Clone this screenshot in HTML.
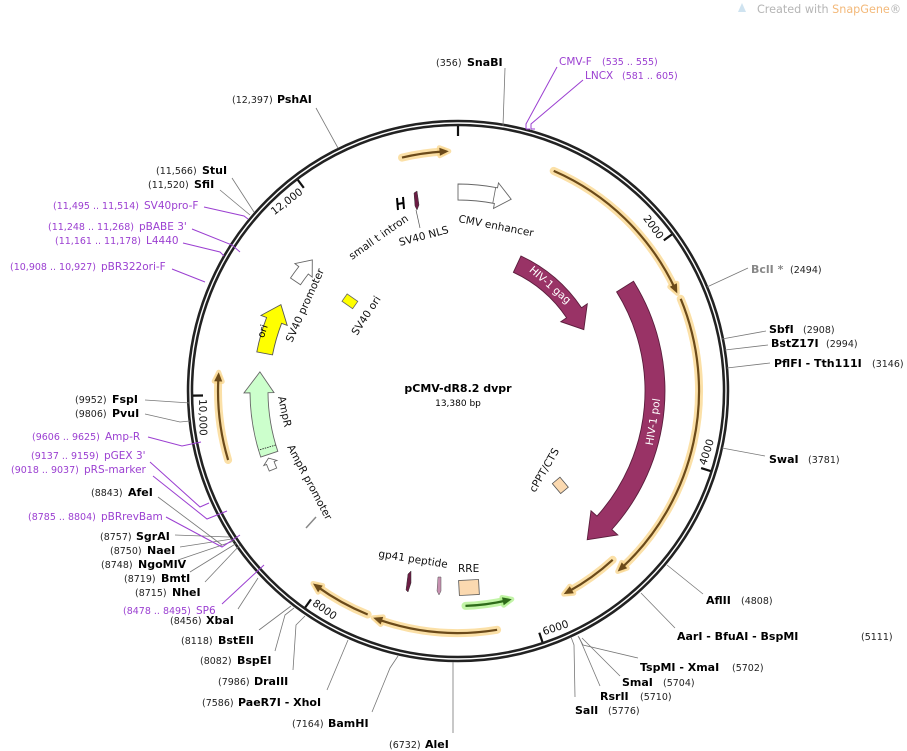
<!DOCTYPE html>
<html><head><meta charset="utf-8">
<style>
html,body{margin:0;padding:0;background:#fff;}
svg{display:block;font-family:"DejaVu Sans","Liberation Sans",sans-serif;}
.n{font-size:9.5px;fill:#222;}
.b{font-size:11px;font-weight:bold;fill:#000;}
.p{font-size:10.5px;fill:#9b3fd1;}
.pn{font-size:9.5px;fill:#9b3fd1;}
.f{font-size:11px;fill:#111;}
.t{font-size:10.5px;fill:#111;}
</style></head><body>
<svg id="s" width="907" height="751" viewBox="0 0 907 751" xmlns="http://www.w3.org/2000/svg">
<text x="757" y="13" style="font-size:11.2px;fill:#b5b5b5">Created with <tspan fill="#f3b97a">SnapGene</tspan>®</text>
<path d="M738 12 l4 -9 l4 9 z" fill="#cfe3f0"/>
<g id="feat"></g>
<circle cx="458" cy="391" r="268" fill="none" stroke="#222" stroke-width="6.5"/>
<circle cx="458" cy="391" r="268" fill="none" stroke="#fff" stroke-width="1.4"/>
<g id="ticks"></g>
<g stroke="#777" stroke-width="0.8" fill="none">
<path d="M505 68 L503 126"/>
<path d="M316 108 L338 148"/>
<path d="M232 178 L254 212"/>
<path d="M220 190 L250 215"/>
<path d="M748 268 L707 287"/>
<path d="M766 331 L722 339"/>
<path d="M768 345 L725 350"/>
<path d="M770 363 L727 368"/>
<path d="M765 456 L722 448"/>
<path d="M703 594 L667 565"/>
<path d="M675 628 L641 593"/>
<path d="M638 658 L583 645 L578 636"/>
<path d="M620 676 L582 638"/>
<path d="M600 686 L579 637"/>
<path d="M575 697 L574 645 L571 637"/>
<path d="M453 733 L453 662"/>
<path d="M372 712 L390 668 L398 656"/>
<path d="M327 690 L348 640"/>
<path d="M293 670 L296 625 L305 616"/>
<path d="M275 651 L285 615 L294 608"/>
<path d="M259 630 L291 606"/>
<path d="M238 609 L258 578"/>
<path d="M205 582 L240 545"/>
<path d="M190 572 L237 543"/>
<path d="M178 560 L234 541"/>
<path d="M180 547 L232 539"/>
<path d="M175 535 L229 537"/>
<path d="M158 497 L222 545"/>
<path d="M145 400 L190 403"/>
<path d="M145 414 L180 422 L190 421"/>
</g>
<g stroke="#9b3fd1" stroke-width="1" fill="none">
<path d="M557 67 L526 124 L526 129 M526 129 h4"/>
<path d="M583 80 L531 124 L531 129 M531 129 h4"/>
<path d="M204 207 L244 216 L248 219"/>
<path d="M192 229 L232 245 L240 252"/>
<path d="M183 243 L220 252 L224 256"/>
<path d="M172 269 L205 282"/>
<path d="M148 437 L182 446 L201 442"/>
<path d="M150 462 L200 507 L209 503"/>
<path d="M153 476 L207 519 L227 511"/>
<path d="M166 517 L222 547 L240 535"/>
<path d="M222 604 L264 565"/>
</g>
<text x="436" y="66" class="n">(356)</text><text x="467" y="66" class="b">SnaBI</text>
<text x="559" y="65" class="p">CMV-F</text><text x="602" y="65" class="pn">(535 .. 555)</text>
<text x="585" y="79" class="p">LNCX</text><text x="622" y="79" class="pn">(581 .. 605)</text>
<text x="232" y="103" class="n">(12,397)</text><text x="277" y="103" class="b">PshAI</text>
<text x="156" y="174" class="n">(11,566)</text><text x="202" y="174" class="b">StuI</text>
<text x="148" y="188" class="n">(11,520)</text><text x="194" y="188" class="b">SfiI</text>
<text x="53" y="209" class="pn">(11,495 .. 11,514)</text><text x="144" y="209" class="p">SV40pro-F</text>
<text x="48" y="230" class="pn">(11,248 .. 11,268)</text><text x="139" y="230" class="p">pBABE 3'</text>
<text x="55" y="244" class="pn">(11,161 .. 11,178)</text><text x="146" y="244" class="p">L4440</text>
<text x="10" y="270" class="pn">(10,908 .. 10,927)</text><text x="101" y="270" class="p">pBR322ori-F</text>
<text x="751" y="273" class="b" style="fill:#888">BclI *</text><text x="790" y="273" class="n">(2494)</text>
<text x="769" y="333" class="b">SbfI</text><text x="803" y="333" class="n">(2908)</text>
<text x="771" y="347" class="b">BstZ17I</text><text x="826" y="347" class="n">(2994)</text>
<text x="774" y="367" class="b">PflFI  - Tth111I</text><text x="872" y="367" class="n">(3146)</text>
<text x="769" y="463" class="b">SwaI</text><text x="808" y="463" class="n">(3781)</text>
<text x="706" y="604" class="b">AflII</text><text x="741" y="604" class="n">(4808)</text>
<text x="677" y="640" class="b">AarI  - BfuAI  - BspMI</text><text x="861" y="640" class="n">(5111)</text>
<text x="640" y="671" class="b">TspMI  - XmaI</text><text x="732" y="671" class="n">(5702)</text>
<text x="622" y="686" class="b">SmaI</text><text x="663" y="686" class="n">(5704)</text>
<text x="600" y="700" class="b">RsrII</text><text x="640" y="700" class="n">(5710)</text>
<text x="575" y="714" class="b">SalI</text><text x="608" y="714" class="n">(5776)</text>
<text x="389" y="748" class="n">(6732)</text><text x="425" y="748" class="b">AleI</text>
<text x="292" y="727" class="n">(7164)</text><text x="328" y="727" class="b">BamHI</text>
<text x="202" y="706" class="n">(7586)</text><text x="238" y="706" class="b">PaeR7I  - XhoI</text>
<text x="218" y="685" class="n">(7986)</text><text x="254" y="685" class="b">DraIII</text>
<text x="200" y="664" class="n">(8082)</text><text x="237" y="664" class="b">BspEI</text>
<text x="181" y="644" class="n">(8118)</text><text x="218" y="644" class="b">BstEII</text>
<text x="170" y="624" class="n">(8456)</text><text x="206" y="624" class="b">XbaI</text>
<text x="123" y="614" class="pn">(8478 .. 8495)</text><text x="196" y="614" class="p">SP6</text>
<text x="135" y="596" class="n">(8715)</text><text x="172" y="596" class="b">NheI</text>
<text x="124" y="582" class="n">(8719)</text><text x="161" y="582" class="b">BmtI</text>
<text x="101" y="568" class="n">(8748)</text><text x="138" y="568" class="b">NgoMIV</text>
<text x="110" y="554" class="n">(8750)</text><text x="147" y="554" class="b">NaeI</text>
<text x="100" y="540" class="n">(8757)</text><text x="136" y="540" class="b">SgrAI</text>
<text x="28" y="520" class="pn">(8785 .. 8804)</text><text x="101" y="520" class="p">pBRrevBam</text>
<text x="91" y="496" class="n">(8843)</text><text x="128" y="496" class="b">AfeI</text>
<text x="11" y="473" class="pn">(9018 .. 9037)</text><text x="84" y="473" class="p">pRS-marker</text>
<text x="31" y="459" class="pn">(9137 .. 9159)</text><text x="104" y="459" class="p">pGEX 3'</text>
<text x="32" y="440" class="pn">(9606 .. 9625)</text><text x="105" y="440" class="p">Amp-R</text>
<text x="75" y="417" class="n">(9806)</text><text x="112" y="417" class="b">PvuI</text>
<text x="75" y="403" class="n">(9952)</text><text x="112" y="403" class="b">FspI</text>
<text x="458" y="392" text-anchor="middle" style="font-size:11px;font-weight:bold">pCMV-dR8.2 dvpr</text>
<text x="458" y="406" text-anchor="middle" style="font-size:9px">13,380 bp</text>
<text class="t" transform="translate(352,260) rotate(-35)">small t intron</text>
<text class="t" transform="translate(400,246) rotate(-15)">SV40 NLS</text>
<text class="t" transform="translate(458,222) rotate(11)">CMV enhancer</text>
<text class="t" transform="translate(292,343) rotate(-66)">SV40 promoter</text>
<text class="t" transform="translate(357,336) rotate(-57)">SV40 ori</text>
<text class="t" transform="translate(278,397) rotate(78)">AmpR</text>
<text class="t" transform="translate(287,447) rotate(62)">AmpR promoter</text>
<text class="t" transform="translate(535,493) rotate(-60)">cPPT/CTS</text>
<text class="t" transform="translate(378,557) rotate(9)">gp41 peptide</text>
<text class="t" x="458" y="572">RRE</text>
<rect x="459" y="580" width="20" height="15" fill="#fbd9b0" stroke="#555" stroke-width="0.8" transform="rotate(-3 469 588)"/>
<rect x="555" y="479" width="10" height="13" fill="#fbd9b0" stroke="#555" stroke-width="0.8" transform="rotate(-40 560 485)"/>
<rect x="343" y="297" width="13" height="9" fill="#ffff00" stroke="#666" stroke-width="0.8" transform="rotate(35 350 302)"/>
<path d="M408 574 l3 -3 l0 12 l-3 9 l-2 -2 z" fill="#6b1d44" stroke="#333" stroke-width="0.5"/>
<path d="M438 577 l3 0 l0 14 l-2 4 l-2 -4 z" fill="#c690b0" stroke="#555" stroke-width="0.5"/>
<path d="M414 193 l3 -2 l2 14 l-2 5 l-2 -4 z" fill="#6b1d44" stroke="#333" stroke-width="0.5"/>
<path d="M416 210 L420 228" stroke="#555" stroke-width="0.7"/>
<path d="M397 198 l1 12 M403 197 l1 12 M398 204 l5 -1" stroke="#000" stroke-width="2"/>
<path d="M306 528 L316 517" stroke="#888" stroke-width="1.5"/>
</svg>
<script>
var cx=458,cy=391,NS="http://www.w3.org/2000/svg";
function pt(a,r){var t=a*Math.PI/180;return [cx+r*Math.sin(t),cy-r*Math.cos(t)];}
function P(p){return p[0].toFixed(1)+" "+p[1].toFixed(1);}
function arc(a1,a2,r){var s=pt(a1,r),e=pt(a2,r),l=Math.abs(a2-a1)>180?1:0,sw=a2>a1?1:0;return "M"+P(s)+" A"+r+" "+r+" 0 "+l+" "+sw+" "+P(e);}
function add(g,tag,at){var el=document.createElementNS(NS,tag);for(var k in at)el.setAttribute(k,at[k]);g.appendChild(el);return el;}
var F=document.getElementById("feat"),T=document.getElementById("ticks");
function thin(a1,a2,r,col,glow){
 var d=a2>a1?1:-1, h=2.2*240/r;
 var body=arc(a1,a2-d*h*0.6,r);
 var tip=pt(a2,r),b1=pt(a2-d*h,r+4),b2=pt(a2-d*h,r-4);
 var head="M"+P(tip)+" L"+P(b1)+" L"+P(b2)+" Z";
 add(F,"path",{d:body,stroke:glow,"stroke-width":8,fill:"none","stroke-linecap":"round",opacity:0.75});
 add(F,"path",{d:head,fill:glow,stroke:glow,"stroke-width":5,"stroke-linejoin":"round",opacity:0.75});
 add(F,"path",{d:body,stroke:col,"stroke-width":2.2,fill:"none"});
 add(F,"path",{d:head,fill:col});
}
function band(a1,a2,r,w,hd,hw,fill,stroke){
 var d=a2>a1?1:-1,ah=a2-d*hd;
 var o=r+w/2,i=r-w/2;
 var s="M"+P(pt(a1,o))+" A"+o+" "+o+" 0 0 "+(d>0?1:0)+" "+P(pt(ah,o))+
 " L"+P(pt(ah,r+hw))+" L"+P(pt(a2,r))+" L"+P(pt(ah,r-hw))+" L"+P(pt(ah,i))+
 " A"+i+" "+i+" 0 0 "+(d>0?0:1)+" "+P(pt(a1,i))+" Z";
 add(F,"path",{d:s,fill:fill,stroke:stroke,"stroke-width":0.9});
}
thin(-13.5,-2.2,240,"#6b4a1a","#f9d58a");
thin(23.5,66,240,"#6b4a1a","#f9d58a");
thin(67.5,138.5,241,"#6b4a1a","#f9d58a");
thin(137.5,152.5,229,"#6b4a1a","#f9d58a");
thin(170.7,200.5,242,"#6b4a1a","#f9d58a");
thin(202,217,241,"#6b4a1a","#f9d58a");
thin(253.3,274.5,240,"#6b4a1a","#f9d58a");
thin(178,165.5,215,"#2e6b1a","#aef08a");
band(25,64,140,18,8,16,"#993366","#5a1d3c");
band(58,139,197,20,7,18,"#993366","#5a1d3c");
band(281,296,197,16,5,14,"#ffff00","#555");
band(251.5,275.5,199,18,6,15,"#ccffcc","#666");
band(247,250.5,201,8,1.5,7,"#fff","#666");
band(304,312,196,12,4,11,"#fff","#666");
band(0,15.5,199,16,4.5,13,"#fff","#666");
var q1=pt(10.5,191),q2=pt(10.5,207);add(F,"path",{d:"M"+P(q1)+" L"+P(q2),stroke:"#666","stroke-width":0.8});
var q3=pt(253.5,190),q4=pt(253.5,208);add(F,"path",{d:"M"+P(q3)+" L"+P(q4),stroke:"#333","stroke-width":0.9,"stroke-dasharray":"1.5 1"});
function lab(a,r,rot,txt,col,sz){var p=pt(a,r);var t=add(F,"text",{x:0,y:0,transform:"translate("+P(p).replace(" ",",")+") rotate("+rot+")","text-anchor":"middle",style:"font-size:"+sz+"px;fill:"+col+";font-family:'DejaVu Sans',sans-serif"});t.textContent=txt;}
lab(41,137,41,"HIV-1 gag","#fff",10.5);
lab(99,201,-81,"HIV-1 pol","#fff",10.5);
lab(287,201,-72,"ori","#000",10);
var tk=[[0,""],[53.8,"2000"],[107.6,"4000"],[161.4,"6000"],[215.2,"8000"],[269,"10,000"],[322.8,"12,000"]];
tk.forEach(function(k){var a=k[0],p1=pt(a,265),p2=pt(a,255);add(T,"path",{d:"M"+P(p1)+" L"+P(p2),stroke:"#111","stroke-width":2.2});
 if(!k[1])return;
 var top=(a<90||a>270),p,rot,anc;
 if(top){p=pt(a-0.8,251);rot=a>180?a-360:a;anc="end";}
 else{p=pt(a-0.8,259);rot=a-180;anc="start";}
 var t=add(T,"text",{transform:"translate("+P(p).replace(" ",",")+") rotate("+rot+")","text-anchor":anc,style:"font-size:10.5px;fill:#111"});
 t.textContent=k[1];});
</script>
</body></html>
